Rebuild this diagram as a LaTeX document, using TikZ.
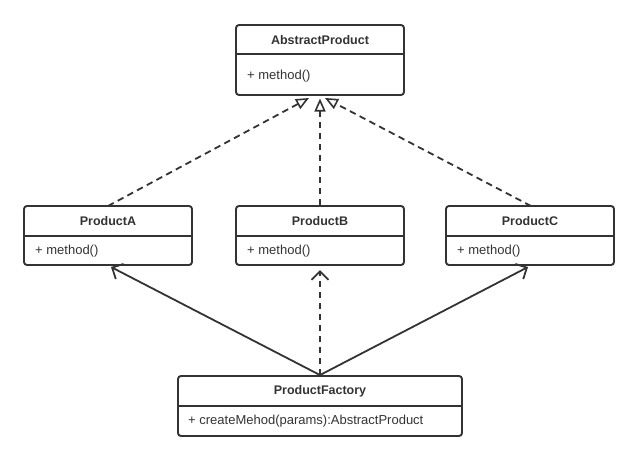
\documentclass[tikz,border=0pt]{standalone}
\usepackage{fontspec}
\setmainfont{Liberation Sans}
\usetikzlibrary{arrows.meta}
\definecolor{ink}{HTML}{333333}
\tikzset{
  classbox/.style={draw=ink, line width=1.9pt, rounded corners=3pt, inner sep=0pt},
  titletext/.style={font=\fontsize{12.5}{14}\selectfont\bfseries, text=ink, inner sep=0pt},
  methtext/.style={font=\fontsize{13}{15}\selectfont, text=ink, inner sep=0pt, anchor=west},
  divider/.style={draw=ink, line width=1.6pt},
  realize/.style={draw=ink, line width=1.8pt, dash pattern=on 6.5pt off 4.5pt, -{Triangle[open, length=13pt, width=11pt, line width=1.6pt]}},
  depend/.style={draw=ink, line width=1.8pt, dash pattern=on 6.5pt off 4.5pt, -{Straight Barb[length=8.5pt, width=17pt, line width=1.8pt]}},
  assoc/.style={draw=ink, line width=1.8pt, -{Straight Barb[length=8.5pt, width=17pt, line width=1.8pt]}}
}
\begin{document}
\begin{tikzpicture}[x=1pt, y=-1pt]
\useasboundingbox (0,0) rectangle (639,461);
% AbstractProduct
\node[classbox, minimum width=168pt, minimum height=70pt] (ap) at (320,60) {};
\draw[divider] (236,54) -- (404,54);
\node[titletext] (apt) at (320,40) {AbstractProduct};
\node[methtext] (apm) at (247,76) {+ method()};
% ProductA
\node[classbox, minimum width=168pt, minimum height=59pt] (pa) at (108,235.5) {};
\draw[divider] (24,236) -- (192,236);
\node[titletext] (pat) at (108,221.5) {ProductA};
\node[methtext] (pam) at (35,251) {+ method()};
% ProductB
\node[classbox, minimum width=168pt, minimum height=59pt] (pb) at (320,235.5) {};
\draw[divider] (236,236) -- (404,236);
\node[titletext] (pbt) at (320,221.5) {ProductB};
\node[methtext] (pbm) at (247,251) {+ method()};
% ProductC
\node[classbox, minimum width=168pt, minimum height=59pt] (pc) at (530,235.5) {};
\draw[divider] (446,236) -- (614,236);
\node[titletext] (pct) at (530,221.5) {ProductC};
\node[methtext] (pcm) at (457,251) {+ method()};
% ProductFactory
\node[classbox, minimum width=284pt, minimum height=60pt] (pf) at (320,406) {};
\draw[divider] (178,406) -- (462,406);
\node[titletext] (pft) at (320,391.5) {ProductFactory};
\node[methtext] (pfm) at (188,421) {+ createMehod(params):AbstractProduct};
% arrow end points
\coordinate (tA) at (309,98);
\coordinate (tB) at (320,98.5);
\coordinate (tC) at (325,98);
\coordinate (sA) at (108,206);
\coordinate (sC) at (531,206);
\coordinate (fA) at (111,267);
\coordinate (fB) at (320,270);
\coordinate (fC) at (528,267);
% realization
\draw[realize] (sA) -- (tA);
\draw[realize] (pb.north) -- (tB);
\draw[realize] (sC) -- (tC);
% factory links
\draw[assoc] (pf.north) -- (fA);
\draw[depend] (pf.north) -- (fB);
\draw[assoc] (pf.north) -- (fC);
\end{tikzpicture}
\end{document}
